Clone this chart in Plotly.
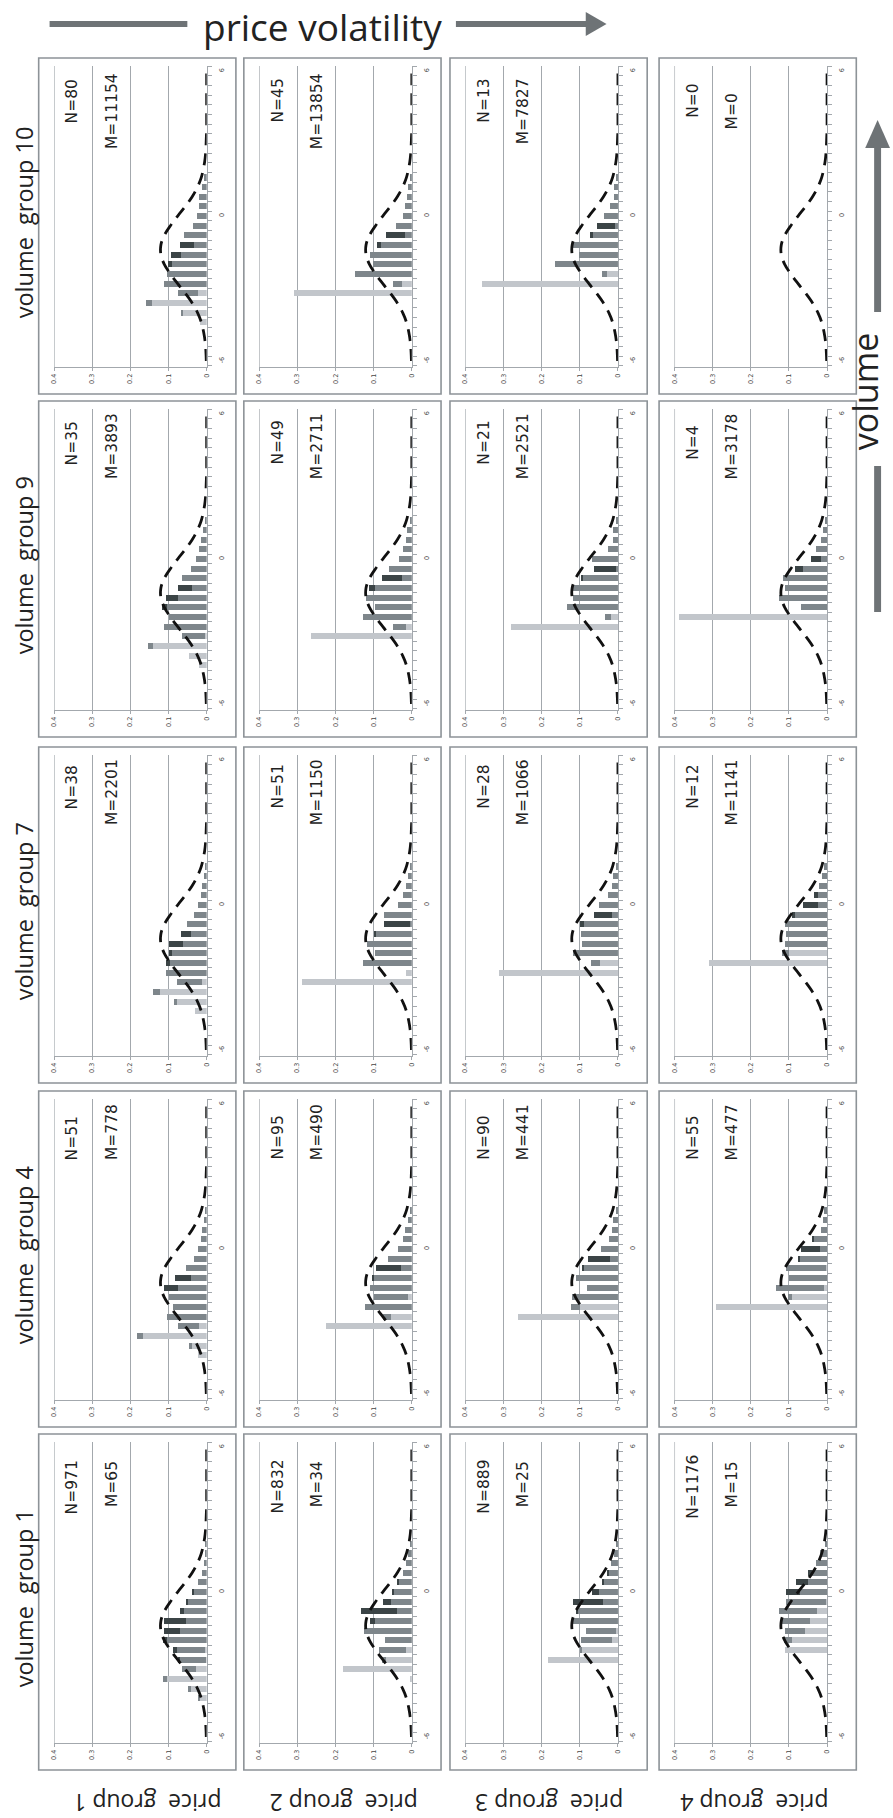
import plotly.graph_objects as go

W, H = 893, 1818

# ---- data -----------------------------------------------------------------
VOLUME_GROUPS = [10, 9, 7, 4, 1]          # panel rows, top to bottom
PRICE_GROUPS = [1, 2, 3, 4]               # panel columns, left to right

# histogram bin centres (standardised return)
BINS = [-4.4, -4.0, -3.6, -3.2, -2.8, -2.4, -2.0, -1.6, -1.2,
        -0.8, -0.4, 0.0, 0.4, 0.8, 1.2, 1.6, 2.0]

# reference density drawn in every panel
CURVE_X = [-6.0, -5.6, -5.2, -4.8, -4.4, -4.0, -3.6, -3.2, -2.8, -2.4, -2.0,
           -1.6, -1.2, -0.8, -0.4, 0.0, 0.4, 0.8, 1.2, 1.6, 2.0, 2.4, 2.8,
           3.2, 3.6, 4.0, 4.4, 4.8, 5.2, 5.6, 6.0]
CURVE_Y = [0.001, 0.002, 0.004, 0.008, 0.014, 0.024, 0.038, 0.056, 0.076,
           0.095, 0.111, 0.120, 0.120, 0.111, 0.095, 0.076, 0.056, 0.038,
           0.024, 0.014, 0.008, 0.004, 0.002, 0.001, 0, 0, 0, 0, 0, 0, 0]

N_COUNT = {10: [80, 45, 13, 0], 9: [35, 49, 21, 4], 7: [38, 51, 28, 12],
           4: [51, 95, 90, 55], 1: [971, 832, 889, 1176]}
M_COUNT = {10: [11154, 13854, 7827, 0], 9: [3893, 2711, 2521, 3178],
           7: [2201, 1150, 1066, 1141], 4: [778, 490, 441, 477],
           1: [65, 34, 25, 15]}

Z = 0
# volume group 10
light_v10_p1 = [0.018, 0.063, 0.144, 0.022, Z, Z, Z, Z, Z, Z, Z, Z, Z, Z, Z, Z, Z]
med_v10_p1 = [Z, 0.005, 0.015, 0.052, 0.113, 0.103, 0.090, 0.066, 0.032, 0.059, 0.037, 0.025, 0.019, 0.019, 0.012, 0.007, Z]
dark_v10_p1 = [Z, Z, Z, Z, Z, Z, 0.012, 0.027, 0.037, Z, Z, Z, Z, Z, Z, Z, Z]
light_v10_p2 = [Z, Z, Z, 0.309, 0.025, Z, Z, Z, Z, Z, Z, Z, Z, Z, Z, Z, Z]
med_v10_p2 = [Z, Z, Z, Z, 0.025, 0.148, 0.103, 0.110, 0.080, 0.018, 0.042, 0.022, 0.018, 0.013, 0.009, 0.005, Z]
dark_v10_p2 = [Z, Z, Z, Z, Z, Z, Z, Z, 0.012, 0.049, Z, Z, Z, Z, Z, Z, Z]
light_v10_p3 = [Z, Z, Z, Z, 0.355, 0.028, Z, Z, Z, Z, Z, Z, Z, Z, Z, Z, Z]
med_v10_p3 = [Z, Z, Z, Z, Z, 0.015, 0.164, 0.103, 0.118, 0.066, 0.007, 0.037, 0.021, 0.010, 0.010, 0.005, Z]
dark_v10_p3 = [Z, Z, Z, Z, Z, Z, Z, Z, Z, 0.006, 0.048, Z, Z, Z, Z, Z, Z]
light_v10_p4 = [Z] * 17
med_v10_p4 = [Z] * 17
dark_v10_p4 = [Z] * 17
# volume group 9
light_v9_p1 = [0.020, 0.045, 0.140, 0.004, Z, Z, Z, Z, Z, Z, Z, Z, Z, Z, Z, Z, Z]
med_v9_p1 = [Z, Z, 0.014, 0.061, 0.113, 0.100, 0.103, 0.075, 0.039, 0.065, 0.042, 0.027, 0.020, 0.016, 0.009, 0.004, Z]
dark_v9_p1 = [Z, Z, Z, Z, Z, Z, 0.015, 0.032, 0.036, Z, Z, Z, Z, Z, Z, Z, Z]
light_v9_p2 = [Z, Z, Z, 0.264, 0.015, Z, Z, Z, Z, Z, Z, Z, Z, Z, Z, Z, Z]
med_v9_p2 = [Z, Z, Z, Z, 0.035, 0.127, 0.096, 0.120, 0.096, 0.025, 0.060, 0.033, 0.024, 0.015, 0.012, 0.006, Z]
dark_v9_p2 = [Z, Z, Z, Z, Z, Z, Z, Z, 0.016, 0.053, Z, Z, Z, Z, Z, Z, Z]
light_v9_p3 = [Z, Z, Z, Z, 0.280, 0.018, Z, Z, Z, Z, Z, Z, Z, Z, Z, Z, Z]
med_v9_p3 = [Z, Z, Z, Z, Z, 0.016, 0.134, 0.119, 0.119, 0.093, 0.005, 0.068, 0.026, 0.012, 0.012, 0.006, Z]
dark_v9_p3 = [Z, Z, Z, Z, Z, Z, Z, Z, Z, 0.004, 0.058, Z, Z, Z, Z, Z, Z]
light_v9_p4 = [Z, Z, Z, Z, Z, 0.388, Z, Z, Z, Z, Z, Z, Z, Z, Z, Z, Z]
med_v9_p4 = [Z, Z, Z, Z, Z, Z, 0.067, 0.127, 0.110, 0.115, 0.063, 0.015, 0.030, 0.015, 0.010, 0.005, Z]
dark_v9_p4 = [Z, Z, Z, Z, Z, Z, Z, Z, Z, Z, 0.022, 0.028, Z, Z, Z, Z, Z]
# volume group 7
light_v7_p1 = [0.030, 0.077, 0.122, 0.012, Z, Z, Z, Z, Z, Z, Z, Z, Z, Z, Z, Z, Z]
med_v7_p1 = [Z, 0.008, 0.018, 0.066, 0.107, 0.096, 0.090, 0.063, 0.041, 0.051, 0.034, 0.024, 0.015, 0.012, 0.007, 0.004, Z]
dark_v7_p1 = [Z, Z, Z, Z, Z, 0.011, 0.010, 0.037, 0.027, Z, Z, Z, Z, Z, Z, Z, Z]
light_v7_p2 = [Z, Z, Z, 0.287, 0.015, Z, Z, Z, Z, Z, Z, Z, Z, Z, Z, Z, Z]
med_v7_p2 = [Z, Z, Z, Z, Z, 0.127, 0.097, 0.118, 0.093, 0.006, 0.073, 0.037, 0.022, 0.015, 0.010, 0.005, Z]
dark_v7_p2 = [Z, Z, Z, Z, Z, Z, Z, Z, 0.007, 0.066, Z, Z, Z, Z, Z, Z, Z]
light_v7_p3 = [Z, Z, Z, Z, 0.313, 0.048, Z, Z, Z, Z, Z, Z, Z, Z, Z, Z, Z]
med_v7_p3 = [Z, Z, Z, Z, Z, 0.022, 0.119, 0.093, 0.097, 0.088, 0.015, 0.049, 0.026, 0.016, 0.012, 0.006, Z]
dark_v7_p3 = [Z, Z, Z, Z, Z, Z, Z, Z, Z, 0.012, 0.048, Z, Z, Z, Z, Z, Z]
light_v7_p4 = [Z, Z, Z, Z, Z, 0.310, 0.100, Z, Z, Z, Z, Z, Z, Z, Z, Z, Z]
med_v7_p4 = [Z, Z, Z, Z, Z, Z, 0.018, 0.110, 0.107, 0.110, 0.085, 0.025, 0.025, 0.022, 0.013, 0.008, Z]
dark_v7_p4 = [Z, Z, Z, Z, Z, Z, Z, Z, Z, Z, 0.008, 0.038, 0.008, Z, Z, Z, Z]
# volume group 4
light_v4_p1 = [0.024, 0.040, 0.168, 0.020, Z, Z, Z, Z, Z, Z, Z, Z, Z, Z, Z, Z, Z]
med_v4_p1 = [Z, 0.005, 0.015, 0.056, 0.104, 0.087, 0.100, 0.076, 0.042, 0.054, 0.034, 0.024, 0.015, 0.013, 0.008, 0.004, Z]
dark_v4_p1 = [Z, Z, Z, Z, Z, Z, Z, 0.036, 0.040, Z, Z, Z, Z, Z, Z, Z, Z]
light_v4_p2 = [Z, Z, Z, 0.224, 0.054, Z, 0.010, Z, Z, Z, Z, Z, Z, Z, Z, Z, Z]
med_v4_p2 = [Z, Z, Z, Z, 0.021, 0.122, 0.090, 0.110, 0.100, 0.028, 0.063, 0.037, 0.022, 0.018, 0.010, 0.006, Z]
dark_v4_p2 = [Z, Z, Z, Z, Z, Z, Z, Z, 0.005, 0.067, Z, Z, Z, Z, Z, Z, Z]
light_v4_p3 = [Z, Z, Z, Z, 0.262, 0.100, Z, Z, Z, Z, Z, Z, Z, Z, Z, Z, Z]
med_v4_p3 = [Z, Z, Z, Z, Z, 0.022, 0.120, 0.082, 0.110, 0.088, 0.022, 0.044, 0.024, 0.016, 0.012, 0.005, Z]
dark_v4_p3 = [Z, Z, Z, Z, Z, Z, Z, Z, Z, 0.006, 0.056, Z, Z, Z, Z, Z, Z]
light_v4_p4 = [Z, Z, Z, Z, Z, 0.290, 0.092, 0.008, Z, 0.003, Z, Z, Z, Z, Z, Z, Z]
med_v4_p4 = [Z, Z, Z, Z, Z, Z, 0.010, 0.126, 0.100, 0.104, 0.070, 0.018, 0.034, 0.016, 0.011, 0.008, Z]
dark_v4_p4 = [Z, Z, Z, Z, Z, Z, Z, Z, Z, Z, 0.006, 0.049, 0.003, Z, Z, Z, Z]
# volume group 1
light_v1_p1 = [0.018, 0.042, 0.103, 0.027, 0.002, 0.005, Z, Z, Z, Z, Z, Z, Z, Z, Z, Z, Z]
med_v1_p1 = [0.004, 0.006, 0.012, 0.037, 0.070, 0.073, 0.104, 0.070, 0.054, 0.060, 0.050, 0.035, 0.022, 0.013, 0.006, 0.004, 0.002]
dark_v1_p1 = [Z, Z, Z, Z, 0.004, 0.010, 0.011, 0.043, 0.059, 0.011, 0.004, 0.003, Z, Z, Z, Z, Z]
light_v1_p2 = [Z, Z, 0.004, 0.181, 0.068, 0.015, Z, Z, Z, Z, Z, Z, Z, Z, Z, Z, Z]
med_v1_p2 = [Z, Z, Z, Z, 0.010, 0.071, 0.069, 0.125, 0.097, 0.039, 0.054, 0.046, 0.034, 0.023, 0.015, 0.010, 0.004]
dark_v1_p2 = [Z, Z, Z, Z, Z, Z, Z, Z, 0.012, 0.095, 0.022, 0.006, 0.004, Z, Z, Z, Z]
light_v1_p3 = [Z, Z, Z, Z, 0.183, 0.094, 0.015, 0.005, Z, Z, Z, Z, Z, Z, Z, Z, Z]
med_v1_p3 = [Z, Z, Z, Z, Z, 0.006, 0.082, 0.078, 0.117, 0.106, 0.039, 0.050, 0.037, 0.024, 0.017, 0.010, 0.006]
dark_v1_p3 = [Z, Z, Z, Z, Z, Z, Z, Z, Z, 0.004, 0.078, 0.019, 0.006, 0.004, Z, Z, Z]
light_v1_p4 = [Z, Z, Z, Z, Z, 0.110, 0.093, 0.058, 0.046, 0.026, 0.003, Z, Z, Z, Z, Z, Z]
med_v1_p4 = [Z, Z, Z, Z, Z, Z, 0.020, 0.052, 0.071, 0.100, 0.104, 0.070, 0.050, 0.040, 0.030, 0.018, 0.006]
dark_v1_p4 = [Z, Z, Z, Z, Z, Z, Z, Z, Z, Z, Z, 0.038, 0.032, 0.010, Z, Z, Z]

PANELS = {
    (10, 1): (light_v10_p1, med_v10_p1, dark_v10_p1),
    (10, 2): (light_v10_p2, med_v10_p2, dark_v10_p2),
    (10, 3): (light_v10_p3, med_v10_p3, dark_v10_p3),
    (10, 4): (light_v10_p4, med_v10_p4, dark_v10_p4),
    (9, 1): (light_v9_p1, med_v9_p1, dark_v9_p1),
    (9, 2): (light_v9_p2, med_v9_p2, dark_v9_p2),
    (9, 3): (light_v9_p3, med_v9_p3, dark_v9_p3),
    (9, 4): (light_v9_p4, med_v9_p4, dark_v9_p4),
    (7, 1): (light_v7_p1, med_v7_p1, dark_v7_p1),
    (7, 2): (light_v7_p2, med_v7_p2, dark_v7_p2),
    (7, 3): (light_v7_p3, med_v7_p3, dark_v7_p3),
    (7, 4): (light_v7_p4, med_v7_p4, dark_v7_p4),
    (4, 1): (light_v4_p1, med_v4_p1, dark_v4_p1),
    (4, 2): (light_v4_p2, med_v4_p2, dark_v4_p2),
    (4, 3): (light_v4_p3, med_v4_p3, dark_v4_p3),
    (4, 4): (light_v4_p4, med_v4_p4, dark_v4_p4),
    (1, 1): (light_v1_p1, med_v1_p1, dark_v1_p1),
    (1, 2): (light_v1_p2, med_v1_p2, dark_v1_p2),
    (1, 3): (light_v1_p3, med_v1_p3, dark_v1_p3),
    (1, 4): (light_v1_p4, med_v1_p4, dark_v1_p4),
}

# ---- layout geometry (pixels) ---------------------------------------------
PANEL_LEFT = [35, 242, 450, 661]
PANEL_TOP = [58, 401, 747, 1091, 1434]
PANEL_W, PANEL_H = 199, 336
PLOT_X0, PLOT_X1 = 15.5, 169.5      # 0.4 gridline .. zero line, inside panel
PLOT_Y0, PLOT_Y1 = 8, 309           # top of plot .. value axis line
N_DY = [43, 42, 40, 47, 53]         # label centres below panel top, per row
M_DY = [53, 45, 45, 41, 50]
PRICE_LABEL_X = [145, 343, 550, 757]

SHADES = ["#c2c6cb", "#7e868b", "#3b4446"]
GRID = "#a3a8ad"
FRAME = "#8d9398"
ARROW = "#6e7376"
FONT = "Open Sans"
COUNT_FONT = "DejaVu Sans"


def px(x):
    return x / W


def py(y):
    return 1 - y / H


def label(x, y, text, size, angle=0, family=FONT):
    return dict(x=px(x), y=py(y), xref="paper", yref="paper", text=text,
                textangle=angle, showarrow=False, xanchor="center",
                yanchor="middle", font=dict(family=family, size=size, color="#222"))


fig = go.Figure()
layout = {}
annotations = []
shapes = []

for r, vg in enumerate(VOLUME_GROUPS):
    for c, pg in enumerate(PRICE_GROUPS):
        n = r * 4 + c + 1
        sx = "" if n == 1 else str(n)
        L, T = PANEL_LEFT[c], PANEL_TOP[r]

        for vals, col in zip(PANELS[(vg, pg)], SHADES):
            fig.add_trace(go.Bar(
                x=vals, y=BINS, orientation="h", width=0.26,
                marker=dict(color=col, line=dict(width=0)),
                xaxis="x" + sx, yaxis="y" + sx, showlegend=False,
                hoverinfo="skip"))
        fig.add_trace(go.Scatter(
            x=CURVE_Y, y=CURVE_X, mode="lines",
            line=dict(color="#111111", width=2.8, dash="12px,8px", shape="spline"),
            xaxis="x" + sx, yaxis="y" + sx, showlegend=False, hoverinfo="skip"))

        layout["xaxis" + sx] = dict(
            domain=[px(L + PLOT_X0), px(L + PLOT_X1)], anchor="y" + sx,
            range=[0.4, 0], tickmode="array",
            tickvals=[0, 0.1, 0.2, 0.3, 0.4],
            ticktext=["0", "0.1", "0.2", "0.3", "0.4"],
            tickangle=-90, tickfont=dict(family="DejaVu Sans", size=6.5, color="#444"),
            ticks="outside", ticklen=3, tickcolor=GRID,
            showgrid=True, gridcolor=GRID, gridwidth=1,
            showline=True, linecolor=GRID, linewidth=1.2,
            zeroline=False, fixedrange=True)
        layout["yaxis" + sx] = dict(
            domain=[py(T + PLOT_Y1), py(T + PLOT_Y0)], anchor="x" + sx,
            side="right", range=[-6.25, 6.21], tickmode="array",
            tickvals=[-6, 0, 6], ticktext=["-6", "0", "6"], tickangle=-90,
            tickfont=dict(family="DejaVu Sans", size=6.5, color="#444"),
            ticks="outside", ticklen=8, tickcolor="rgba(0,0,0,0)",
            minor=dict(tick0=0.2, dtick=0.4, ticks="outside", ticklen=4,
                       tickcolor=GRID, tickwidth=1, showgrid=False),
            showgrid=False, zeroline=False,
            showline=True, linecolor=GRID, linewidth=1.4, fixedrange=True)

        # outer gridline at the 0.4 end of the value axis
        shapes.append(dict(type="line", xref="x" + sx, yref=f"y{sx} domain",
                           x0=0.4, x1=0.4, y0=0, y1=1, layer="below",
                           line=dict(color=GRID, width=1.2)))
        shapes.append(dict(type="rect", xref="paper", yref="paper",
                           x0=px(L), x1=px(L + PANEL_W), y0=py(T + PANEL_H), y1=py(T),
                           line=dict(color=FRAME, width=1.6), layer="above"))

        annotations.append(label(L + 34, T + N_DY[r], f"N={N_COUNT[vg][c]}",
                                 15.5, -90, COUNT_FONT))
        annotations.append(label(L + 74, T + M_DY[r], f"M={M_COUNT[vg][c]}",
                                 15.5, -90, COUNT_FONT))

    annotations.append(label(20.5, PANEL_TOP[r] + PANEL_H / 2 - 4,
                             f"volume  group {vg}", 23.5, -90))

for c, pg in enumerate(PRICE_GROUPS):
    annotations.append(label(PRICE_LABEL_X[c], 1803, f"price  group {pg}", 23, 180))

# axis captions with arrows
annotations.append(label(321, 26, "price volatility", 37))
annotations.append(label(869, 392, "volume", 34, -90))

shapes += [
    dict(type="rect", xref="paper", yref="paper", x0=px(46), x1=px(185),
         y0=py(27), y1=py(21), fillcolor=ARROW, line=dict(width=0)),
    dict(type="rect", xref="paper", yref="paper", x0=px(456), x1=px(590),
         y0=py(27), y1=py(21), fillcolor=ARROW, line=dict(width=0)),
    dict(type="path", xref="paper", yref="paper", fillcolor=ARROW, line=dict(width=0),
         path=f"M {px(587)} {py(12)} L {px(608)} {py(24)} L {px(587)} {py(36)} Z"),
    dict(type="rect", xref="paper", yref="paper", x0=px(878), x1=px(885),
         y0=py(312), y1=py(146), fillcolor=ARROW, line=dict(width=0)),
    dict(type="rect", xref="paper", yref="paper", x0=px(878), x1=px(885),
         y0=py(612), y1=py(466), fillcolor=ARROW, line=dict(width=0)),
    dict(type="path", xref="paper", yref="paper", fillcolor=ARROW, line=dict(width=0),
         path=f"M {px(869)} {py(148)} L {px(881.5)} {py(120)} L {px(894)} {py(148)} Z"),
]

fig.update_layout(
    width=W, height=H, margin=dict(l=0, r=0, t=0, b=0),
    paper_bgcolor="white", plot_bgcolor="white",
    barmode="stack", showlegend=False,
    annotations=annotations, shapes=shapes, **layout)

fig.write_html("out.html")
